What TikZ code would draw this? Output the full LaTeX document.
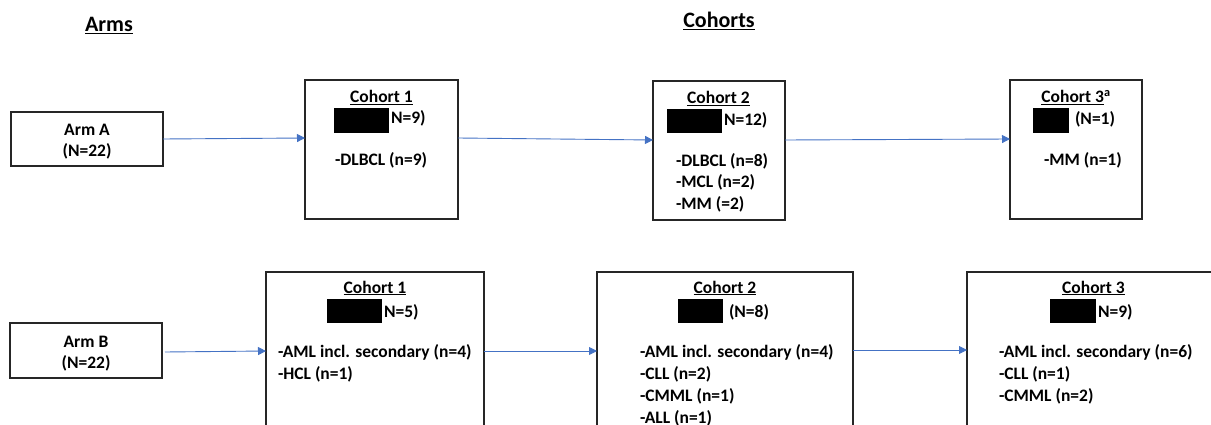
\documentclass[tikz,border=0pt]{standalone}
\usepackage{fontspec}
\setmainfont{Carlito}
\usetikzlibrary{arrows.meta}
\definecolor{arrowblue}{HTML}{4472C4}
\newcommand\bfbody{\fontsize{17.5}{22}\selectfont\bfseries}
\newcommand\hdfont{\fontsize{22}{26}\selectfont\bfseries}
\begin{document}
\begin{tikzpicture}[x=1pt,y=-1pt,
  box/.style={draw=black!85, line width=1.3pt, inner sep=0pt, outer sep=0pt, anchor=north west},
  redact/.style={fill=black, inner sep=0pt, outer sep=0pt, anchor=north west},
  txt/.style={inner sep=0pt, outer sep=0pt, anchor=base west, font=\bfbody},
  ctxt/.style={inner sep=0pt, outer sep=0pt, anchor=base, font=\bfbody},
  head/.style={inner sep=0pt, outer sep=0pt, anchor=base, font=\hdfont},
  arr/.style={draw=arrowblue, line width=0.9pt, -{Triangle[length=8pt,width=8pt]}}]
\useasboundingbox (0,0) rectangle (1211,425);
\clip (0,0) rectangle (1211,425);

% headers
\node[head] (harms) at (109,32) {\underline{Arms}};
\node[head] (hcoh) at (719,28) {\underline{Cohorts}};

% ---------- Arm A row ----------
\node[box, minimum width=152pt, minimum height=54pt] (armA) at (11,112) {};
\node[ctxt] (armAt1) at (87,136) {Arm A};
\node[ctxt] (armAt2) at (87,157) {(N=22)};

\node[box, minimum width=153pt, minimum height=139pt] (c1a) at (305,80) {};
\node[ctxt] (c1at) at (381.5,103) {\underline{Cohort 1}};
\node[redact, minimum width=55pt, minimum height=25pt] (c1ar) at (334,108) {};
\node[txt] (c1an) at (391,124) {N=9)};
\node[txt] (c1ai1) at (335,166) {-DLBCL (n=9)};

\node[box, minimum width=132pt, minimum height=139pt] (c2a) at (653,81) {};
\node[ctxt] (c2at) at (718.5,104) {\underline{Cohort 2}};
\node[redact, minimum width=55pt, minimum height=24pt] (c2ar) at (667,109) {};
\node[txt] (c2an) at (724,126) {N=12)};
\node[txt] (c2ai1) at (676,167) {-DLBCL (n=8)};
\node[txt] (c2ai2) at (676,188) {-MCL (n=2)};
\node[txt] (c2ai3) at (676,209) {-MM (=2)};

\node[box, minimum width=132pt, minimum height=139pt] (c3a) at (1010,80) {};
\node[ctxt] (c3at) at (1076,103) {\underline{Cohort 3}\textsuperscript{a}};
\node[redact, minimum width=36pt, minimum height=25pt] (c3ar) at (1033,108) {};
\node[txt] (c3an) at (1075,125) {(N=1)};
\node[txt] (c3ai1) at (1044,166) {-MM (n=1)};

\coordinate (a0) at (163,138);
\coordinate (a1) at (305,138);
\coordinate (a2) at (458,138);
\coordinate (a3) at (653,140);
\coordinate (a4) at (785,140);
\coordinate (a5) at (1010,139);
\draw[arr] (armA.east) -- (a1);
\draw[arr] (a2) -- (a3);
\draw[arr] (a4) -- (a5);

% ---------- Arm B row ----------
\node[box, minimum width=152pt, minimum height=55pt] (armB) at (10,323) {};
\node[ctxt] (armBt1) at (86,347) {Arm B};
\node[ctxt] (armBt2) at (86,368) {(N=22)};

\node[box, minimum width=218pt, minimum height=200pt] (c1b) at (266,272) {};
\node[ctxt] (c1bt) at (375,293) {\underline{Cohort 1}};
\node[redact, minimum width=55pt, minimum height=24pt] (c1br) at (327,299) {};
\node[txt] (c1bn) at (384,317) {N=5)};
\node[txt] (c1bi1) at (278,357) {-AML incl. secondary (n=4)};
\node[txt] (c1bi2) at (278,379) {-HCL (n=1)};

\node[box, minimum width=256pt, minimum height=200pt] (c2b) at (597,272) {};
\node[ctxt] (c2bt) at (725,293) {\underline{Cohort 2}};
\node[redact, minimum width=45pt, minimum height=24pt] (c2br) at (678,299) {};
\node[txt] (c2bn) at (729,317) {(N=8)};
\node[txt] (c2bi1) at (640,357) {-AML incl. secondary (n=4)};
\node[txt] (c2bi2) at (640,379) {-CLL (n=2)};
\node[txt] (c2bi3) at (640,401) {-CMML (n=1)};
\node[txt] (c2bi4) at (640,423) {-ALL (n=1)};

\node[box, minimum width=300pt, minimum height=200pt] (c3b) at (967,272) {};
\node[ctxt] (c3bt) at (1093.5,293) {\underline{Cohort 3}};
\node[redact, minimum width=46pt, minimum height=24pt] (c3br) at (1050,299) {};
\node[txt] (c3bn) at (1098,317) {N=9)};
\node[txt] (c3bi1) at (999,357) {-AML incl. secondary (n=6)};
\node[txt] (c3bi2) at (999,379) {-CLL (n=1)};
\node[txt] (c3bi3) at (999,401) {-CMML (n=2)};

\coordinate (b0) at (165,352);
\coordinate (b1) at (266,351);
\coordinate (b2) at (484,351);
\coordinate (b3) at (597,351);
\coordinate (b4) at (853,350);
\coordinate (b5) at (967,350);
\draw[arr] (b0) -- (b1);
\draw[arr] (b2) -- (b3);
\draw[arr] (b4) -- (b5);
\end{tikzpicture}
\end{document}
